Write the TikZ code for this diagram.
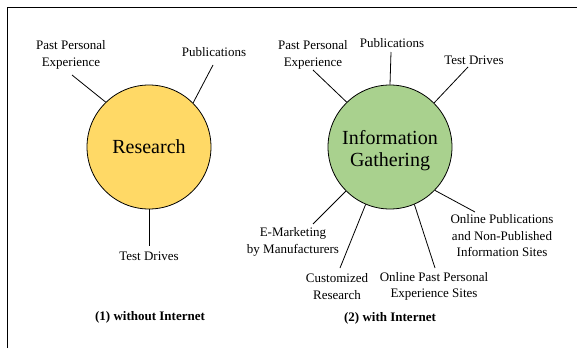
\documentclass[tikz,border=0pt]{standalone}
\usepackage{fontspec}
\setmainfont{Liberation Serif}
\definecolor{ryellow}{HTML}{FFD966}
\definecolor{igreen}{HTML}{A9D18E}
\begin{document}
\begin{tikzpicture}[x=1pt,y=-1pt,
  hub/.style={circle,draw=black,line width=0.8pt,minimum size=124pt,inner sep=0pt},
  hubtxt/.style={align=center,inner sep=0pt,font=\fontsize{20}{22}\selectfont},
  lbl/.style={align=center,inner sep=0pt,font=\fontsize{13}{16.5}\selectfont},
  captxt/.style={inner sep=0pt,font=\fontsize{13}{16}\selectfont\bfseries},
  spoke/.style={draw=black,line width=0.8pt}]
\useasboundingbox (0,0) rectangle (577,348);
\draw[line width=1.8pt] (7.5,348) -- (7.5,7.5) -- (577,7.5);
% left diagram
\node[hub,fill=ryellow] (R) at (149,147) {};
\node[hubtxt] (Rt) at (149,147) {Research};
\node[lbl] (rppe) at (71,55) {Past Personal\\Experience};
\node[lbl] (rpub) at (214,52) {Publications};
\node[lbl] (rtd) at (149,256) {Test Drives};
\node[captxt] (c1) at (150,317) {(1) without Internet};
\coordinate (rppeE) at (72,75);
\coordinate (rpubE) at (213,65);
\coordinate (rtdE) at (149,246);
\draw[spoke] (R.134) -- (rppeE);
\draw[spoke] (R.45) -- (rpubE);
\draw[spoke] (R.270) -- (rtdE);
% right diagram
\node[hub,fill=igreen] (G) at (390,147) {};
\node[hubtxt] (Gt) at (390,150.5) {Information\\Gathering};
\node[lbl] (gppe) at (313,55) {Past Personal\\Experience};
\node[lbl] (gpub) at (392,43) {Publications};
\node[lbl] (gtd) at (474,60) {Test Drives};
\node[lbl] (gop) at (502,236) {Online Publications\\and Non-Published\\Information Sites};
\node[lbl] (gos) at (434,286.5) {Online Past Personal\\Experience Sites};
\node[lbl] (gcr) at (337,286.5) {Customized\\Research};
\node[lbl] (gem) at (293,242) {E-Marketing\\by Manufacturers};
\node[captxt] (c2) at (390,318) {(2) with Internet};
\coordinate (gppeE) at (313,70);
\coordinate (gpubE) at (391,52);
\coordinate (gtdE) at (468,67);
\coordinate (gopE) at (475,212);
\coordinate (gosE) at (435,268);
\coordinate (gcrE) at (340,268);
\coordinate (gemE) at (313,224);
\draw[spoke] (G.134) -- (gppeE);
\draw[spoke] (G.90) -- (gpubE);
\draw[spoke] (G.45) -- (gtdE);
\draw[spoke] (G.-44) -- (gopE);
\draw[spoke] (G.-67) -- (gosE);
\draw[spoke] (G.-113) -- (gcrE);
\draw[spoke] (G.-135) -- (gemE);
\end{tikzpicture}
\end{document}
